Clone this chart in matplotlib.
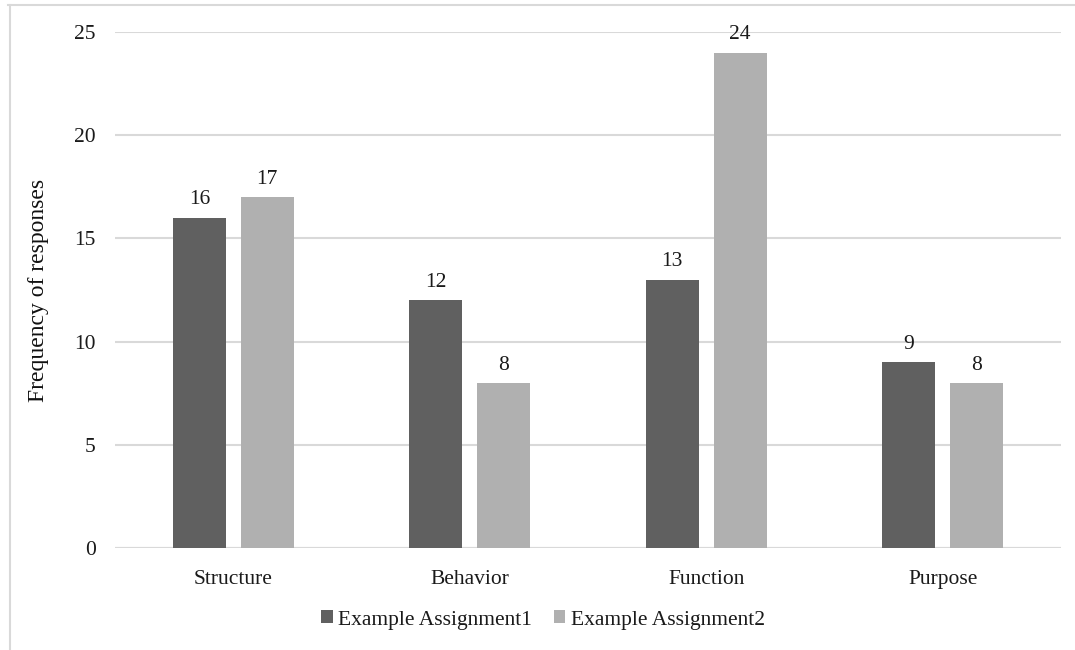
import matplotlib
matplotlib.use("Agg")
import matplotlib.pyplot as plt
from matplotlib.lines import Line2D
import numpy as np

categories = ["Structure", "Behavior", "Function", "Purpose"]
series_names = ["Example Assignment1", "Example Assignment2"]
assignment1 = [16, 12, 13, 9]
assignment2 = [17, 8, 24, 8]
yticks = [0, 5, 10, 15, 20, 25]

plt.rcParams['font.family'] = ['Liberation Serif', 'DejaVu Serif']

fig = plt.figure(figsize=(10.75, 6.5), dpi=100)
ax = fig.add_axes([115/1075, 1-548/650, (1061-115)/1075, (548-32)/650])

x = np.arange(len(categories))
w = 0.224
off = (w + 0.063) / 2
c1, c2 = "#606060", "#b0b0b0"
b1 = ax.bar(x - off, assignment1, w, color=c1, label=series_names[0], zorder=3)
b2 = ax.bar(x + off, assignment2, w, color=c2, label=series_names[1], zorder=3)
for bars in (b1, b2):
    ax.bar_label(bars, padding=6, fontsize=15.5, color="#1a1a1a")

ax.set_xlim(-0.5, len(categories) - 0.5)
ax.set_ylim(0, 25)
ax.set_yticks(yticks)
ax.set_xticks(x)
ax.set_xticklabels(categories)
ax.tick_params(axis='both', length=0, labelsize=15.5, colors="#1a1a1a")
ax.tick_params(axis='y', pad=14)
ax.tick_params(axis='x', pad=16)
ax.grid(axis='y', color="#d9d9d9", linewidth=1.5, zorder=0)
for s in ax.spines.values():
    s.set_visible(False)
ax.axhline(0, color="#d9d9d9", linewidth=1.5, zorder=1)
ax.set_ylabel("Frequency of responses", fontsize=17, color="#111111", labelpad=18)

fig.legend(loc='center', bbox_to_anchor=(0.505, 1-620/650), ncol=2, frameon=False,
           fontsize=15.5, handlelength=0.55, handleheight=0.55, handletextpad=0.25,
           columnspacing=1.0, labelcolor="#1a1a1a")

fig.add_artist(Line2D([8/1075, 1], [1-5/650, 1-5/650], color="#d9d9d9", linewidth=1.5, transform=fig.transFigure))
fig.add_artist(Line2D([10/1075, 10/1075], [0, 1-5/650], color="#d9d9d9", linewidth=1.5, transform=fig.transFigure))

fig.savefig("out.png", dpi=100, facecolor="white")
